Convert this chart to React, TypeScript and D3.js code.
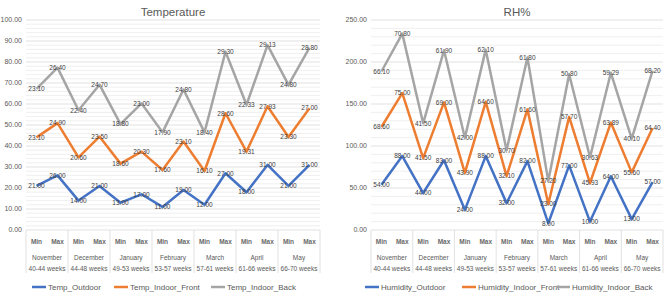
import React from "react";
import * as d3 from "d3";

const months = ["November", "December", "January", "February", "March", "April", "May"];
const weekRanges = ["40-44 weeks", "44-48 weeks", "49-53 weeks", "53-57 weeks", "57-61 weeks", "61-66 weeks", "66-70 weeks"];
const minMax = ["Min", "Max"];

const tempOutdoor = [21, 26, 14, 21, 13, 17, 11, 19, 12, 27, 18, 31, 21, 31];
const tempFront = [23.1, 24.9, 20.6, 23.5, 18.6, 20.3, 17.6, 23.1, 16.1, 28.6, 19.31, 27.93, 23.3, 27.0];
const tempBack = [23.1, 26.4, 22.4, 24.7, 18.8, 23.0, 17.9, 24.8, 18.4, 29.3, 22.33, 29.13, 24.8, 28.8];

const rhOutdoor = [54, 88, 44, 83, 24, 88, 32, 82, 8, 77, 10, 64, 13, 57];
const rhFront = [68.6, 75.0, 41.5, 69.0, 43.9, 64.6, 32.1, 61.6, 23.0, 57.7, 45.93, 63.89, 55.6, 64.4];
const rhBack = [66.1, 70.8, 41.5, 61.9, 42.0, 62.1, 30.7, 61.8, 27.2, 50.8, 30.63, 59.29, 40.1, 68.2];

const tempNames = ["Temp_Outdoor", "Temp_Indoor_Front", "Temp_Indoor_Back"];
const rhNames = ["Humidity_Outdoor", "Humidity_Indoor_Front", "Humidity_Indoor_Back"];
const colors = ["#4472C4", "#ED7D31", "#A5A5A5"];

const FONT = "'Liberation Sans', Arial, sans-serif";
const TXT = "#595959";

type ChartProps = {
  title: string;
  names: string[];
  series: number[][];
  yMax: number;
  major: number;
  minor: number;
  left: number;
  right: number;
  legendX: number[];
};

function Chart({ title, names, series, yMax, major, minor, left, right, legendX }: ChartProps) {
  const top = 20;
  const bottom = 230;
  const n = series[0].length;
  const cats = d3.range(n);
  const x = d3.scaleBand<number>().domain(cats).range([left, right]);
  const y = d3.scaleLinear().domain([0, yMax]).range([bottom, top]);
  const rows = cats.map((i) => {
    const r: any = { i };
    names.forEach((nm, k) => (r[nm] = series[k][i]));
    return r;
  });
  const stacked = d3.stack<any>().keys(names)(rows);
  const line = d3
    .line<any>()
    .x((d) => (x(d.data.i) as number) + x.bandwidth() / 2)
    .y((d) => y(d[1]));
  const minorTicks = d3.range(0, yMax + 0.001, minor).filter((v) => Math.abs(v / major - Math.round(v / major)) > 1e-6);
  const majorTicks = d3.range(0, yMax + 0.001, major);
  const groupW = (right - left) / months.length;
  const fmt = d3.format(".2f");
  return (
    <g fontFamily={FONT}>
      <text x={(left + right) / 2} y={16} textAnchor="middle" fontSize={11.5} fill={TXT}>
        {title}
      </text>
      {minorTicks.map((v) => (
        <line key={"m" + v} x1={left} x2={right} y1={y(v)} y2={y(v)} stroke="#ebebeb" strokeWidth={0.8} />
      ))}
      {majorTicks.map((v) => (
        <line key={"M" + v} x1={left} x2={right} y1={y(v)} y2={y(v)} stroke="#d9d9d9" strokeWidth={0.8} />
      ))}
      {majorTicks.map((v) => (
        <text key={"t" + v} x={left - 4} y={y(v)} dy="0.35em" textAnchor="end" fontSize={7} fill={TXT}>
          {fmt(v)}
        </text>
      ))}
      {d3.range(months.length + 1).map((g) => (
        <line key={"s" + g} x1={left + g * groupW} x2={left + g * groupW} y1={bottom} y2={273} stroke="#d9d9d9" strokeWidth={0.8} />
      ))}
      {cats.map((i) => (
        <text key={"c" + i} x={(x(i) as number) + x.bandwidth() / 2} y={244} textAnchor="middle" fontSize={6.5} fontWeight="bold" fill="#6a6a6a">
          {minMax[i % 2]}
        </text>
      ))}
      {months.map((m, g) => (
        <g key={"g" + m}>
          <text x={left + (g + 0.5) * groupW} y={260} textAnchor="middle" fontSize={6.5} fill={TXT}>
            {m}
          </text>
          <text x={left + (g + 0.5) * groupW} y={270.5} textAnchor="middle" fontSize={6.5} fill={TXT}>
            {weekRanges[g]}
          </text>
        </g>
      ))}
      {stacked.map((s, k) => (
        <path key={"p" + k} d={line(s) as string} fill="none" stroke={colors[k]} strokeWidth={2.5} strokeLinejoin="round" />
      ))}
      {stacked.map((s, k) =>
        s.map((d: any, i: number) => (
          <text
            key={"l" + k + "-" + i}
            x={(x(i) as number) + x.bandwidth() / 2}
            y={y(d[1])}
            dy="0.35em"
            textAnchor="middle"
            fontSize={6.5}
            fill="#404040"
          >
            {fmt(series[k][i])}
          </text>
        ))
      )}
      {names.map((nm, k) => (
        <g key={"lg" + k}>
          <line x1={legendX[k]} x2={legendX[k] + 14} y1={287} y2={287} stroke={colors[k]} strokeWidth={2.5} />
          <text x={legendX[k] + 16} y={287} dy="0.35em" fontSize={8} fill={TXT}>
            {nm}
          </text>
        </g>
      ))}
    </g>
  );
}

export default function App() {
  return (
    <svg
      width={668}
      height={296}
      style={{ position: "absolute", left: 0, top: 0, background: "#fff" }}
    >
      <Chart
        title="Temperature"
        names={tempNames}
        series={[tempOutdoor, tempFront, tempBack]}
        yMax={100}
        major={10}
        minor={2}
        left={26}
        right={320}
        legendX={[32, 114, 211]}
      />
      <Chart
        title="RH%"
        names={rhNames}
        series={[rhOutdoor, rhFront, rhBack]}
        yMax={250}
        major={50}
        minor={10}
        left={371}
        right={663}
        legendX={[365, 462, 556]}
      />
    </svg>
  );
}
